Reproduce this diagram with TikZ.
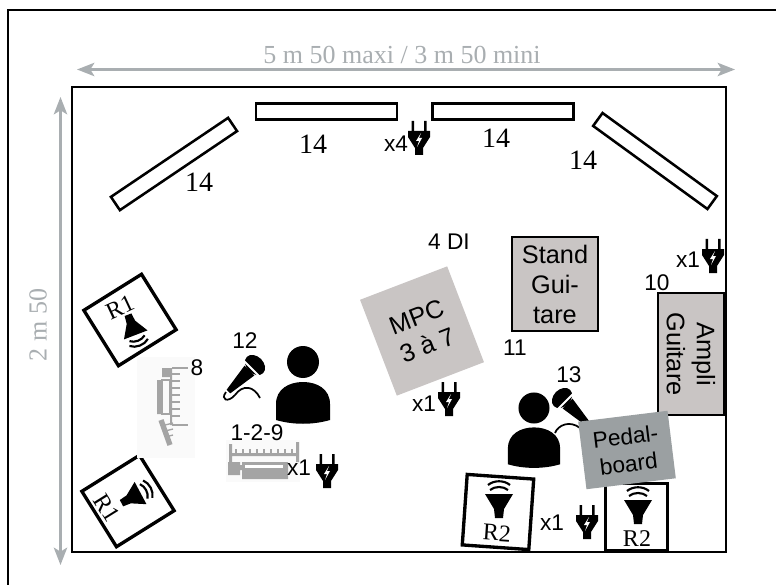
\documentclass[tikz,border=0pt]{standalone}
\usepackage{fontspec}
\setmainfont{Liberation Serif}
\newfontfamily\labelfont{Liberation Sans}
\usetikzlibrary{arrows.meta}
\definecolor{dimgray}{HTML}{A9AEB1}
\definecolor{standgray}{HTML}{C9C5C4}
\definecolor{pedalgray}{HTML}{9BA0A2}
\definecolor{synthgray}{HTML}{A4A4A4}
\tikzset{
	panelbox/.style={draw,line width=1.9pt,fill=white,minimum width=106pt,minimum height=12pt,inner sep=0pt},
	speakerbox/.style={draw,line width=2.5pt,fill=white,inner sep=0pt},
	dimline/.style={dimgray,line width=2pt,{Stealth[length=13pt,width=10pt,inset=3pt]}-{Stealth[length=13pt,width=10pt,inset=3pt]}},
	dimtext/.style={text=dimgray,font=\fontsize{19.5}{22}\selectfont,inner sep=0pt},
	serif14/.style={font=\fontsize{21}{24}\selectfont,inner sep=0pt},
	rtext/.style={font=\fontsize{18}{21}\selectfont,inner sep=0pt},
	tag/.style={font=\labelfont\fontsize{17}{20}\selectfont,inner sep=0pt},
	gearbox/.style={font=\labelfont\fontsize{19}{22.5}\selectfont,align=center,inner sep=0pt},
	plug/.pic={
		\fill (-7.5,-18) rectangle (-5,-7) (5,-18) rectangle (7.5,-7);
		\fill (-11,-8)--(11,-8)--(11,-2)--(4,9)--(4,16)--(-4,16)--(-4,9)--(-11,-2)--cycle;
		\fill[white] (2,-6)--(-3,2)--(0,2)--(-2,8)--(3,-1)--(0,-1)--cycle;
	},
	person/.pic={
		\fill (0,0) circle (16);
		\fill (-27,58)--(-27,42) .. controls (-27,27) and (-14,20) .. (0,20)
			.. controls (14,20) and (27,27) .. (27,42)--(27,58)
			.. controls (10,63) and (-10,63) .. cycle;
	},
	mic/.pic={
		\fill[rotate=45] (0,0) ellipse (8.5 and 11.5);
		\fill (-0.7,10.5)--(-10.5,0.7)--(-28.4,24.8)--(-24.8,28.4)--cycle;
		\draw[white,line width=1.4pt] (-12,-5)--(5,12);
	},
	speaker/.pic={
		\fill (-14,-7)--(14,-7)--(5,8)--(4,17)--(-4,17)--(-5,8)--cycle;
		\draw[line width=1.6pt] (-9,-11) .. controls (-4,-15) and (4,-15) .. (9,-11);
		\draw[line width=1.6pt] (-11,-16) .. controls (-5,-21) and (5,-21) .. (11,-16);
	}
}
\begin{document}
\begin{tikzpicture}[x=0.75pt,y=-0.75pt]
	\useasboundingbox (0,0) rectangle (776,585);
	\draw[line width=2pt] (8,585)--(8,10)--(776,10);
	\draw[line width=2pt] (72,87) rectangle (726,552);
	% dimensions
	\coordinate (widthleft) at (77,69.5);
	\coordinate (widthright) at (735,69.5);
	\coordinate (depthtop) at (60.5,97);
	\coordinate (depthbottom) at (60.5,565);
	\draw[dimline] (widthleft)--(widthright);
	\draw[dimline] (depthtop)--(depthbottom);
	\node[dimtext] (widthlabel) at (402,55) {5 m 50 maxi / 3 m 50 mini};
	\node[dimtext,rotate=90] (depthlabel) at (38,325) {2 m 50};
	% panels along the back
	\node[panelbox,rotate=34] (panela) at (174,164) {};
	\node[panelbox] (panelb) at (326.5,111.5) {};
	\node[panelbox] (panelc) at (503,111.5) {};
	\node[panelbox,rotate=-36] (paneld) at (655,161) {};
	\node[serif14] (fourteena) at (199,182) {14};
	\node[serif14] (fourteenb) at (313,144) {14};
	\node[serif14] (fourteenc) at (496,138) {14};
	\node[serif14] (fourteend) at (583,160) {14};
	% gear
	\node[tag] (diboxes) at (449,242) {4 DI};
	\node[gearbox,draw,line width=1.6pt,fill=standgray,minimum width=64.5pt,minimum height=70.5pt] (stand) at (555,284) {Stand\\Gui-\\tare};
	\node[gearbox,draw,line width=1.6pt,fill=standgray,rotate=-90,minimum width=91pt,minimum height=49.5pt] (ampli) at (691,354) {Ampli\\Guitare};
	\node[gearbox,fill=standgray,rotate=21,minimum width=70pt,minimum height=77pt] (mpc) at (422,331) {MPC\\3 à 7};
	\node[tag] (ten) at (657,283) {10};
	\node[tag] (eleven) at (515,348) {11};
	\node[tag] (thirteen) at (569,375) {13};
	% R1 wedges
	\node[speakerbox,rotate=32,minimum width=51pt,minimum height=49pt] (rubberup) at (130,320) {};
	\node[speakerbox,rotate=32,minimum width=51pt,minimum height=49pt] (rubberdown) at (128,501) {};
	\pic[rotate=-159,scale=0.9] at (133.5,329) {speaker};
	\pic[rotate=-62,scale=0.9] at (135,496) {speaker};
	\node[rtext,rotate=25] (rup) at (120,307) {R1};
	\node[rtext,rotate=-58] (rdown) at (107,508) {R1};
	% synths
	\fill[black!2] (137,357) rectangle (195,458);
	\fill[synthgray] (162,368) rectangle (172,377) (157,380) rectangle (162,414) (170,377) rectangle (172,425);
	\draw[synthgray,line width=1pt] (172,368)--(188,368) (172,425)--(188,425) (162,380) rectangle (170,414);
	\foreach \y in {374,381,...,420}{\draw[synthgray,line width=1pt] (172,\y)--(180,\y);}
	\draw[synthgray,line width=4pt] (161,420)--(170,445);
	\foreach \y in {425,431,437}{\draw[synthgray,line width=1pt] (165,\y)--(173,\y-2);}
	\fill[black!2] (226,440) rectangle (300,482);
	\fill[synthgray] (229,444) rectangle (232,464) (296,442) rectangle (299,462) (229,453) rectangle (299,456);
	\fill[synthgray] (228,462) rectangle (240,475) (242,462) rectangle (288,479) (240,465) rectangle (288,470);
	\fill[white] (245,465) rectangle (283,468);
	\foreach \x in {236,243,...,292}{\draw[synthgray,line width=1pt] (\x,449)--(\x,454);}
	\node[tag] (eight) at (197,368) {8};
	\node[tag] (twelve) at (245,341) {12};
	\node[tag] (onetwonine) at (257,433) {1-2-9};
	% players
	\pic at (303,362) {person};
	\pic[scale=0.97] at (534,408) {person};
	\pic at (255,365) {mic};
	\draw[line width=1.3pt] (226,392) .. controls (220,400) and (228,403) .. (235,395)
		.. controls (243,384) and (254,386) .. (260,398);
	\pic[xscale=-1] at (562,398) {mic};
	\draw[line width=1.3pt] (555,433) .. controls (558,425) and (570,420) .. (580,428);
	% R2 wedges
	\node[speakerbox,rotate=-4,minimum width=50pt,minimum height=53pt] (rtwoleft) at (498,512) {};
	\pic at (499,501) {speaker};
	\node[rtext,rotate=-4] (rleft) at (497,533) {R2};
	\node[speakerbox,minimum width=46.5pt,minimum height=50pt] (rtworight) at (636.5,517) {};
	\pic at (638,507) {speaker};
	\node[rtext] (rright) at (637,539) {R2};
	\node[gearbox,font=\labelfont\fontsize{17}{20.5}\selectfont,fill=pedalgray,rotate=7,minimum width=67.5pt,minimum height=51pt] (pedalboard) at (627,450) {Pedal-\\board};
	% power
	\node[tag] (xfour) at (396,144) {x4};
	\pic at (419,139) {plug};
	\node[tag] (xonea) at (299,468) {x1};
	\pic at (327,472) {plug};
	\node[tag] (xoneb) at (424,404) {x1};
	\pic at (449,400) {plug};
	\node[tag] (xonec) at (552,523) {x1};
	\pic at (587,523) {plug};
	\node[tag] (xoned) at (688,260) {x1};
	\pic at (713,257) {plug};
\end{tikzpicture}
\end{document}
